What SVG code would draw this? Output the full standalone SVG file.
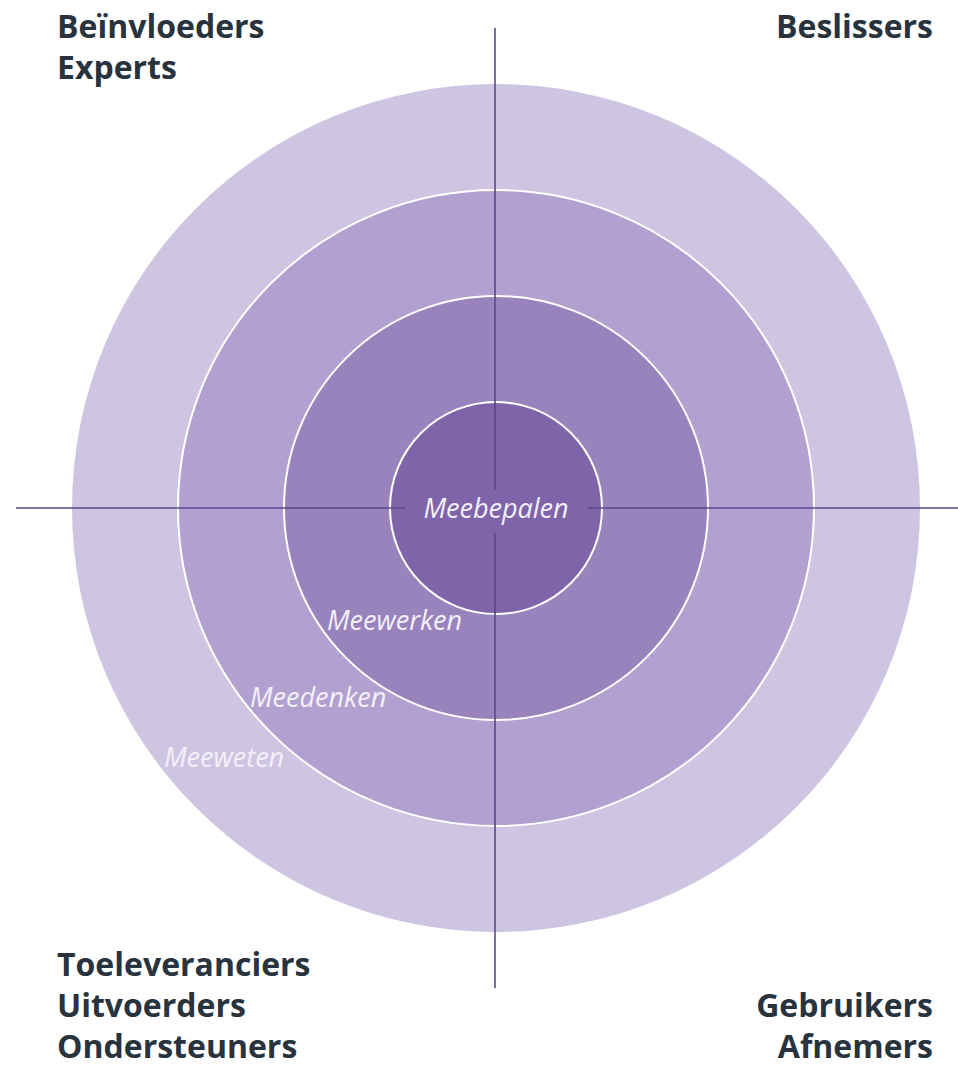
<svg xmlns="http://www.w3.org/2000/svg" width="958" height="1065" viewBox="0 0 958 1065">
<style>
.ring{stroke:#ffffff;stroke-width:2}
.axis{stroke:#5a4787;stroke-width:1.6;fill:none}
.lvl{font-family:"Open Sans","Liberation Sans",sans-serif;font-style:italic;font-size:27px;fill:#f3f0f9}
.grp{font-family:"Open Sans","Liberation Sans",sans-serif;font-weight:bold;font-size:32px;fill:#28333e}
</style>
<rect width="958" height="1065" fill="#ffffff"/>
<g id="ring-meeweten"><circle cx="496" cy="508" r="424" fill="#cec5e2"/></g>
<g id="ring-meedenken"><circle class="ring" cx="496" cy="508" r="318" fill="#b2a1d0"/></g>
<g id="ring-meewerken"><circle class="ring" cx="496" cy="508" r="212" fill="#9883bd"/></g>
<g id="ring-meebepalen"><circle class="ring" cx="496" cy="508" r="106" fill="#7f64aa"/></g>
<g id="connectors">
<line class="axis" x1="495" y1="28" x2="495" y2="490"/>
<line class="axis" x1="495" y1="533" x2="495" y2="988"/>
<line class="axis" x1="16" y1="508" x2="405" y2="508"/>
<line class="axis" x1="588" y1="508" x2="958" y2="508"/>
</g>
<g id="labels-levels">
<text class="lvl" x="496" y="518" text-anchor="middle">Meebepalen</text>
<text class="lvl" x="327" y="630">Meewerken</text>
<text class="lvl" x="250" y="707">Meedenken</text>
<text class="lvl" x="164" y="767">Meeweten</text>
</g>
<g id="group-topleft">
<text class="grp" x="57" y="38">Beïnvloeders</text>
<text class="grp" x="57" y="79">Experts</text>
</g>
<g id="group-topright">
<text class="grp" x="933" y="38" text-anchor="end">Beslissers</text>
</g>
<g id="group-bottomleft">
<text class="grp" x="57" y="976">Toeleveranciers</text>
<text class="grp" x="57" y="1017">Uitvoerders</text>
<text class="grp" x="57" y="1058">Ondersteuners</text>
</g>
<g id="group-bottomright">
<text class="grp" x="933" y="1017" text-anchor="end">Gebruikers</text>
<text class="grp" x="933" y="1058" text-anchor="end">Afnemers</text>
</g>
</svg>
